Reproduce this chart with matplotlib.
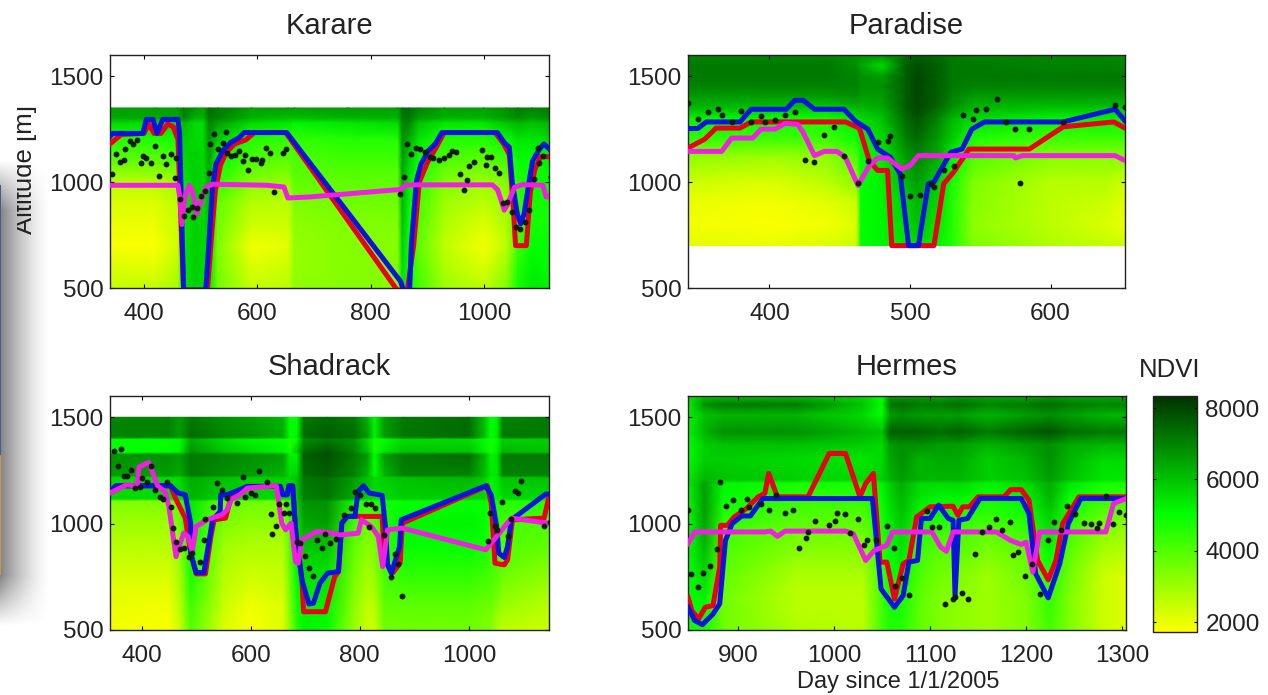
import numpy as np
import matplotlib
matplotlib.use("Agg")
import matplotlib.pyplot as plt
from matplotlib.colors import LinearSegmentedColormap, Normalize
from matplotlib.transforms import Bbox

# ---------- Karare
kar_ndvi_days = [340,420,460,470,490,505,515,530,590,655,665,760,848,856,868,885,930,1000,1040,1060,1085,1115]
kar_ndvi_alt = [1350,1300,1280,1200,1100,1000,900,800,700,600,500]
kar_ndvi = [
    [66,66,66,72,68,66,74,72,66,66,66,66,66,74,74,70,66,66,68,72,70,72],
    [64,64,64,70,62,62,72,70,62,60,60,62,62,72,72,66,62,62,66,68,66,68],
    [56,56,56,62,56,56,70,66,56,54,52,54,56,70,70,60,54,54,60,62,60,62],
    [46,46,48,58,56,56,68,58,46,44,44,46,46,68,64,54,46,46,50,54,54,56],
    [38,38,40,56,58,56,66,50,40,38,40,42,42,66,58,48,40,38,42,50,50,52],
    [27,27,30,54,58,56,64,44,33,31,38,38,38,64,54,44,34,30,34,46,48,50],
    [22,22,26,54,58,56,62,38,27,26,34,36,36,62,52,42,30,26,30,44,48,48],
    [20,20,25,54,58,56,60,36,24,24,32,34,34,60,50,40,28,22,28,42,48,48],
    [18,18,24,54,58,56,58,34,19,21,31,33,33,58,48,38,26,19,26,42,50,50],
    [22,21,27,54,58,56,56,35,22,24,31,33,33,56,48,40,28,22,30,46,52,50],
    [25,25,29,54,58,56,54,36,25,26,32,33,33,54,48,42,30,26,34,48,54,52],
]
kar_blue_x = [340,345,398,404,416,423,433,460,463,466,470,509,515,521,527,539,553,568,577,652,853,858,869,872,881,889,902,914,926,1024,1036,1045,1050,1059,1065,1071,1080,1086,1098,1106,1118]
kar_blue_y = [1216,1230,1230,1296,1296,1230,1296,1296,1226,900,490,490,726,976,1085,1148,1187,1210,1234,1234,531,490,490,711,1005,1085,1148,1180,1234,1234,1187,1164,1005,850,803,850,1005,1100,1155,1180,1150]
kar_red_x = [340,360,400,408,418,430,442,452,460,466,470,512,520,526,535,545,560,580,595,650,847,865,876,886,900,915,930,1020,1035,1045,1052,1056,1075,1082,1090,1100,1118]
kar_red_y = [1180,1225,1230,1275,1230,1230,1275,1260,1200,760,490,490,770,960,1080,1140,1180,1200,1234,1234,490,490,700,1000,1090,1160,1234,1234,1180,1130,880,700,700,950,1060,1120,1120]
kar_mag_x = [340,450,460,463,467,472,480,485,493,509,521,617,647,654,693,852,863,1015,1024,1030,1036,1042,1054,1068,1104,1110,1118]
kar_mag_y = [985,985,985,930,800,930,985,960,850,975,990,985,977,925,930,965,987,987,965,918,867,895,975,988,985,930,930]
kar_pts_x = [343,350,357,364,367,375,381,388,395,398,404,412,419,426,433,439,447,454,457,463,470,477,485,486,494,501,508,514,516,524,531,539,544,547,553,561,568,575,578,584,591,598,606,609,615,622,629,645,651,
             852,859,865,872,880,887,896,905,911,920,929,938,944,951,957,965,971,974,982,996,1003,1005,1012,1019,1027,1033,1040,1050,1056,1064,1073,1080,1088,1097,1095,1104,1119]
kar_pts_y = [1040,1131,1095,1103,1154,1196,1182,1201,1092,1123,1115,1092,1170,1028,1123,1087,1131,1017,1115,920,839,869,884,837,878,936,959,1045,1181,1225,1154,1185,1237,1139,1123,1126,1146,1100,1128,1056,1107,1107,1092,1103,1162,1136,951,1136,1157,
             943,1022,1178,1134,1162,1154,1143,1118,1112,1104,1115,1128,1146,1143,1037,962,1011,1076,1096,1150,1081,1120,1118,1068,1045,900,905,858,787,780,811,869,1014,1089,1162,1123,1022]

# ---------- Paradise
par_ndvi_days = [342,400,440,462,465,480,497,505,520,530,545,600,640,653]
par_ndvi_alt = [1600,1550,1500,1450,1400,1350,1300,1200,1120,1000,900,800,700]
par_ndvi = [
    [70,70,70,68,68,68,74,76,74,72,70,70,70,68],
    [72,72,72,68,65,56,76,78,76,72,72,70,70,70],
    [72,72,72,70,68,66,76,80,76,72,72,72,72,72],
    [70,70,70,70,68,68,76,80,76,72,70,70,70,70],
    [66,66,66,68,66,66,76,80,76,70,66,66,66,66],
    [62,60,58,62,62,64,76,80,74,68,62,60,60,60],
    [52,50,48,54,56,60,74,78,70,62,56,52,52,52],
    [44,42,42,48,52,56,70,74,66,58,46,42,42,42],
    [32,30,32,40,50,54,66,70,64,52,40,33,33,33],
    [24,22,26,32,50,52,62,66,58,48,34,27,27,24],
    [20,19,21,24,50,52,58,62,56,46,33,26,24,21],
    [19,18,19,22,50,52,56,60,54,46,32,26,22,20],
    [21,20,22,24,50,52,54,56,52,46,34,28,25,24],
]
par_blue_x = [342,349,355,379,387,412,418,424,432,453,461,470,477,486,493,499,506,513,517,529,537,544,553,609,646,653]
par_blue_y = [1253,1253,1284,1284,1344,1344,1386,1386,1344,1344,1289,1250,1156,1117,1039,700,700,992,1000,1141,1156,1250,1284,1284,1344,1289]
par_red_x = [342,354,362,379,387,454,464,471,477,484,487,517,524,531,542,585,609,645,653]
par_red_y = [1161,1203,1255,1255,1284,1284,1255,1102,1055,1055,700,700,992,1047,1156,1156,1261,1284,1255]
par_mag_x = [342,366,373,388,394,404,411,420,424,432,439,448,454,463,471,477,484,494,500,506,574,575,580,646,653]
par_mag_y = [1145,1145,1208,1208,1250,1250,1277,1273,1234,1125,1145,1145,1117,984,1078,1114,1114,1062,1078,1125,1125,1114,1125,1125,1102]
par_pts_x = [342,349,356,363,366,373,380,387,394,397,404,411,418,425,432,439,446,453,463,470,477,484,486,494,500,507,515,517,524,531,538,545,547,554,562,568,575,578,585,609,646,653]
par_pts_y = [1375,1297,1331,1344,1317,1284,1336,1286,1313,1284,1294,1317,1331,1106,1097,1223,1261,1122,995,1098,1188,1192,1219,1031,934,937,989,977,1055,1075,1317,1300,1339,1344,1394,1284,1250,997,1253,1284,1364,1356]

# ---------- Shadrack
sha_ndvi_days = [342,450,470,490,550,600,660,672,685,697,740,790,815,827,845,880,1000,1030,1040,1052,1062,1147]
sha_ndvi_alt = [1500,1405,1395,1335,1325,1225,1215,1115,1105,1000,900,800,700,600,500]
sha_ndvi = [
    [70,70,66,72,68,66,62,50,50,72,74,72,62,52,66,72,74,60,50,52,70,72],
    [70,70,66,74,70,68,64,50,52,74,76,74,66,52,66,72,74,60,50,54,72,72],
    [50,50,50,64,56,52,50,46,50,68,72,68,56,48,50,56,56,50,48,50,58,58],
    [50,50,52,68,60,56,52,48,60,74,78,70,60,48,54,60,60,52,48,52,62,60],
    [68,68,66,72,70,68,66,52,52,76,78,72,66,50,66,72,74,62,52,54,72,72],
    [66,66,64,72,68,66,62,56,58,74,76,70,62,50,62,70,70,60,54,54,70,70],
    [56,56,56,64,60,58,58,56,60,72,74,66,60,56,58,60,62,58,52,54,60,60],
    [56,56,56,62,58,56,56,56,60,70,72,64,58,56,56,58,58,56,52,52,56,56],
    [34,34,40,54,38,36,36,44,58,68,68,48,44,46,48,50,50,50,48,48,46,46],
    [30,30,36,52,34,32,32,42,56,64,66,42,36,38,46,52,52,50,46,44,42,40],
    [27,27,32,50,30,28,28,40,54,60,60,38,33,34,44,50,50,48,44,42,40,38],
    [24,24,30,48,28,25,26,38,52,56,56,36,30,32,42,46,46,44,42,40,38,34],
    [21,21,28,46,26,22,24,36,50,54,54,34,28,30,40,42,42,40,40,38,34,30],
    [20,19,26,42,24,19,22,34,48,52,52,32,25,26,38,38,38,36,36,32,30,26],
    [19,18,24,40,22,18,22,32,46,52,50,30,24,24,36,36,36,34,34,28,26,24],
]
sha_blue_x = [342,353,453,467,480,490,490,500,514,524,530,544,545,557,594,654,659,667,670,677,682,684,694,707,715,727,741,761,767,777,791,797,807,817,841,847,851,858,873,876,1031,1041,1051,1055,1065,1071,1078,1141,1147]
sha_blue_y = [1151,1178,1178,1144,1136,1002,861,770,770,924,1018,1057,1136,1136,1175,1175,1136,1136,1178,1178,986,924,735,622,626,720,767,775,1002,1034,1034,1151,1178,1144,1133,987,806,767,892,1018,1178,1136,987,861,841,892,1018,1139,1139]
sha_red_x = [342,353,453,462,480,490,500,517,527,533,554,565,594,654,659,667,670,677,682,694,697,737,754,761,767,777,841,844,851,861,874,878,1034,1041,1048,1065,1071,1080,1138,1147]
sha_red_y = [1151,1178,1178,1120,1026,861,764,764,940,1018,1026,1136,1175,1175,1136,1136,1178,1178,986,735,586,586,751,775,1002,1034,1034,892,806,770,814,1002,1178,1096,814,806,830,1018,1026,1128]
sha_mag_x = [342,373,392,395,413,430,443,450,463,477,485,493,500,520,547,557,564,580,594,647,657,664,674,682,687,694,721,741,764,797,803,821,834,842,851,878,1031,1051,1078,1145]
sha_mag_y = [1144,1183,1175,1266,1288,1175,1151,1081,845,955,940,869,987,1018,1042,1065,1112,1136,1167,1178,1002,971,1002,822,814,924,963,958,947,955,1018,987,940,798,971,979,877,940,1026,1002]
sha_pts_x = [350,363,357,367,373,381,388,397,401,410,418,425,433,440,447,453,457,463,470,477,486,492,507,514,517,530,538,547,557,574,585,590,600,607,616,630,637,639,646,652,664,661,671,684,691,699,707,714,721,731,737,746,757,771,784,791,801,811,821,828,817,844,858,864,871,878,1035,1038,1048,1051,1061,1071,1078,1085,1091,1095,1138,1148]
sha_pts_y = [1340,1352,1269,1222,1222,1250,1167,1172,1214,1198,1272,1159,1125,1115,1196,1078,979,916,880,885,842,861,822,924,1021,1078,1191,1159,1120,1096,1219,1125,1144,1136,1249,1194,1045,952,987,1092,1093,1052,1052,916,908,849,790,756,924,885,950,908,927,1042,1073,1147,1133,1092,1092,1073,984,947,751,858,811,660,919,1049,987,971,1101,940,1021,1155,1144,1202,991,1010]

# ---------- Hermes
her_ndvi_days = [848,865,885,960,1030,1050,1058,1070,1090,1110,1130,1160,1200,1225,1245,1280,1304]
her_ndvi_alt = [1600,1560,1510,1430,1370,1300,1205,1190,1120,1040,950,850,750,650,500]
her_ndvi = [
    [56,60,60,60,56,50,66,66,66,64,66,64,64,66,64,64,64],
    [52,68,72,72,60,50,72,74,72,72,74,70,72,74,72,70,70],
    [52,60,62,62,56,50,66,68,66,66,66,62,66,68,66,62,62],
    [52,62,68,68,62,60,76,76,76,74,76,72,76,78,74,72,72],
    [50,58,60,60,58,56,66,68,68,66,66,62,66,68,64,62,62],
    [50,58,58,56,54,56,64,68,62,64,64,58,62,68,62,56,56],
    [54,62,60,58,56,58,62,66,62,62,62,58,60,66,60,54,54],
    [52,66,52,48,48,52,58,64,56,56,56,52,56,64,54,48,48],
    [50,66,50,44,44,50,56,62,54,52,52,48,52,62,50,44,42],
    [50,66,46,40,40,48,54,60,50,48,46,44,48,58,46,38,36],
    [50,64,42,36,36,46,52,56,46,42,42,38,42,54,42,32,30],
    [50,60,40,32,32,44,50,54,42,38,38,34,38,50,38,28,26],
    [50,56,38,28,28,42,50,50,40,36,34,30,36,46,36,24,22],
    [50,52,36,26,26,42,48,48,38,34,32,30,34,44,34,24,22],
    [48,48,36,28,26,42,46,46,38,34,32,30,34,42,34,24,22],
]
her_blue_x = [848,855,863,874,881,887,894,904,913,926,1040,1049,1063,1072,1078,1087,1091,1100,1109,1119,1124,1126,1130,1139,1152,1195,1203,1210,1223,1235,1244,1257,1304]
her_blue_y = [607,544,525,575,623,921,1000,1036,1036,1118,1118,693,607,662,819,827,1024,1024,1087,1024,1016,662,1016,1024,1118,1118,1047,764,651,811,1000,1118,1118]
her_red_x = [848,852,859,866,874,881,882,889,896,909,921,928,932,941,973,995,1012,1027,1033,1041,1048,1055,1063,1072,1078,1086,1100,1124,1129,1134,1141,1150,1177,1184,1195,1203,1212,1223,1231,1238,1255,1304]
her_red_y = [654,591,552,607,615,796,992,992,1031,1071,1126,1142,1236,1126,1126,1330,1330,1126,1189,1236,819,819,646,811,827,1031,1079,1082,1039,1079,1079,1126,1126,1160,1160,1110,827,736,827,1000,1126,1126]
her_mag_x = [848,855,928,934,941,949,1012,1020,1033,1042,1055,1061,1102,1111,1117,1124,1169,1184,1195,1200,1207,1214,1283,1291,1304]
her_mag_y = [906,961,961,965,940,965,965,953,827,874,898,961,961,890,870,961,961,921,902,913,772,961,961,1094,1118]
her_pts_x = [848,851,858,864,871,878,881,888,895,903,909,912,924,932,940,949,957,964,971,973,980,995,1001,1003,1011,1017,1025,1031,1034,1044,1055,1062,1064,1071,1078,1097,1102,1109,1116,1124,1126,1133,1140,1147,1154,1161,1169,1175,1183,1186,1192,1199,1206,1214,1223,1229,1236,1243,1251,1260,1268,1274,1276,1283,1290,1297,1304]
her_pts_y = [1063,764,704,769,799,879,1197,1082,1113,1063,1118,1079,1091,1066,1134,1050,1063,885,932,961,1011,995,1011,1050,1047,956,1024,901,921,921,987,885,709,745,665,1058,984,984,623,646,654,675,646,855,961,984,1020,972,1006,851,866,753,811,667,925,1008,969,1082,1047,1003,997,980,1005,1129,1000,1055,1039]

# ticks and colour scale
y_ticks = [500, 1000, 1500]
kar_xticks = [400, 600, 800, 1000]
par_xticks = [400, 500, 600]
sha_xticks = [400, 600, 800, 1000]
her_xticks = [900, 1000, 1100, 1200, 1300]
cbar_ticks = [2000, 4000, 6000, 8000]

W, H = 1268, 695
fuente = ['Liberation Sans', 'DejaVu Sans']
plt.rcParams['font.family'] = fuente
TICK = 17.5
TIT = 21
TXT = '#222222'

cmap = LinearSegmentedColormap.from_list(
    'ndvi', [(0, '#ffff00'), (0.5, '#00ff00'), (1, '#003200')])
norm = Normalize(1720, 8340)


def px_rect(x0, y0, x1, y1):
    # caja en pixeles de la imagen (y hacia abajo) a fraccion de figura
    return [x0 / W, 1 - y1 / H, (x1 - x0) / W, (y1 - y0) / H]


def panel(rect, xlim, xticks, title, d, a, z, blue, red, mag, pts):
    ax = fig.add_axes(px_rect(*rect))
    ax.pcolormesh(d, a, 100 * np.array(z), cmap=cmap, norm=norm, shading='gouraud', zorder=1)
    ax.plot(red[0], red[1], color='#e8001c', lw=3.6, zorder=3, solid_joinstyle='round')
    ax.plot(blue[0], blue[1], color='#0a14dc', lw=3.6, zorder=4, solid_joinstyle='round')
    ax.plot(mag[0], mag[1], color='#f020e0', lw=3.6, zorder=5, solid_joinstyle='round')
    ax.plot(pts[0], pts[1], ls='none', marker='o', ms=3.2, color='#101a10', zorder=6)
    ax.set_xlim(*xlim)
    ax.set_ylim(500, 1600)
    ax.set_xticks(xticks)
    ax.set_yticks(y_ticks)
    ax.tick_params(direction='in', length=3, width=0.8, top=True, right=True,
                   labelsize=TICK, labelcolor=TXT)
    ax.tick_params(axis='x', pad=11)
    ax.tick_params(axis='y', pad=4.5)
    for sp in ax.spines.values():
        sp.set_linewidth(1.0)
        sp.set_color('#222222')
    ax.set_title(title, fontsize=TIT, color=TXT, pad=15)
    return ax


fig = plt.figure(figsize=(W / 100, H / 100), dpi=100, facecolor='white')

# sombra y tira de la pagina de fondo, a la izquierda
sombra_ax = fig.add_axes(px_rect(0, 150, 60, 640), zorder=-5)
yy, xx = np.mgrid[150:640, 0:60]
fade_x = np.clip(1 - xx / 50, 0, 1) ** 1.5
fade_y = np.clip((yy - 160) / 50, 0, 1) * np.clip((625 - yy) / 50, 0, 1)
rgba = np.zeros(xx.shape + (4,))
rgba[..., :3] = 0.25
rgba[..., 3] = 0.65 * fade_x * fade_y
sombra_ax.imshow(rgba, aspect='auto', extent=(0, 60, 640, 150))
sombra_ax.fill_between([0, 1.3], 185, 455, color='#4a5a90', lw=0)
sombra_ax.fill_between([0, 1.3], 455, 575, color='#c8964e', lw=0)
sombra_ax.set_xlim(0, 60)
sombra_ax.set_ylim(640, 150)
sombra_ax.axis('off')

panel((110, 55, 549, 288), (340, 1115), kar_xticks, 'Karare',
      kar_ndvi_days, kar_ndvi_alt, kar_ndvi,
      (kar_blue_x, kar_blue_y), (kar_red_x, kar_red_y), (kar_mag_x, kar_mag_y), (kar_pts_x, kar_pts_y))
panel((688, 55, 1125, 288), (342, 653), par_xticks, 'Paradise',
      par_ndvi_days, par_ndvi_alt, par_ndvi,
      (par_blue_x, par_blue_y), (par_red_x, par_red_y), (par_mag_x, par_mag_y), (par_pts_x, par_pts_y))
panel((110, 396, 549, 630), (342, 1147), sha_xticks, 'Shadrack',
      sha_ndvi_days, sha_ndvi_alt, sha_ndvi,
      (sha_blue_x, sha_blue_y), (sha_red_x, sha_red_y), (sha_mag_x, sha_mag_y), (sha_pts_x, sha_pts_y))
panel((688, 396, 1126, 630), (848, 1304), her_xticks, 'Hermes',
      her_ndvi_days, her_ndvi_alt, her_ndvi,
      (her_blue_x, her_blue_y), (her_red_x, her_red_y), (her_mag_x, her_mag_y), (her_pts_x, her_pts_y))
fig.text(898 / W, 1 - 682 / H, 'Day since 1/1/2005', fontsize=17, color=TXT, ha='center', va='center')

# barra de color
cax = fig.add_axes(px_rect(1153, 396, 1197, 632))
sm = plt.cm.ScalarMappable(norm=norm, cmap=cmap)
cb = fig.colorbar(sm, cax=cax, ticks=cbar_ticks)
cb.ax.tick_params(direction='in', length=2.5, width=0.8, left=True, right=True,
                  labelsize=TICK, labelcolor=TXT, pad=6)
cb.outline.set_linewidth(1.0)
cb.outline.set_edgecolor('#222222')
fig.text(1170 / W, 1 - 370 / H, 'NDVI', fontsize=18.5, color=TXT, ha='center', va='center')

# etiqueta cortada por la izquierda, como en el original
yl = fig.text(25 / W, 1 - 169 / H, 'Altitude [m]', rotation=90, fontsize=18.5, color=TXT,
              ha='center', va='center', clip_on=True)
yl.set_clip_box(Bbox([[17, 0], [W, H]]))

fig.savefig('out.png', dpi=100)
